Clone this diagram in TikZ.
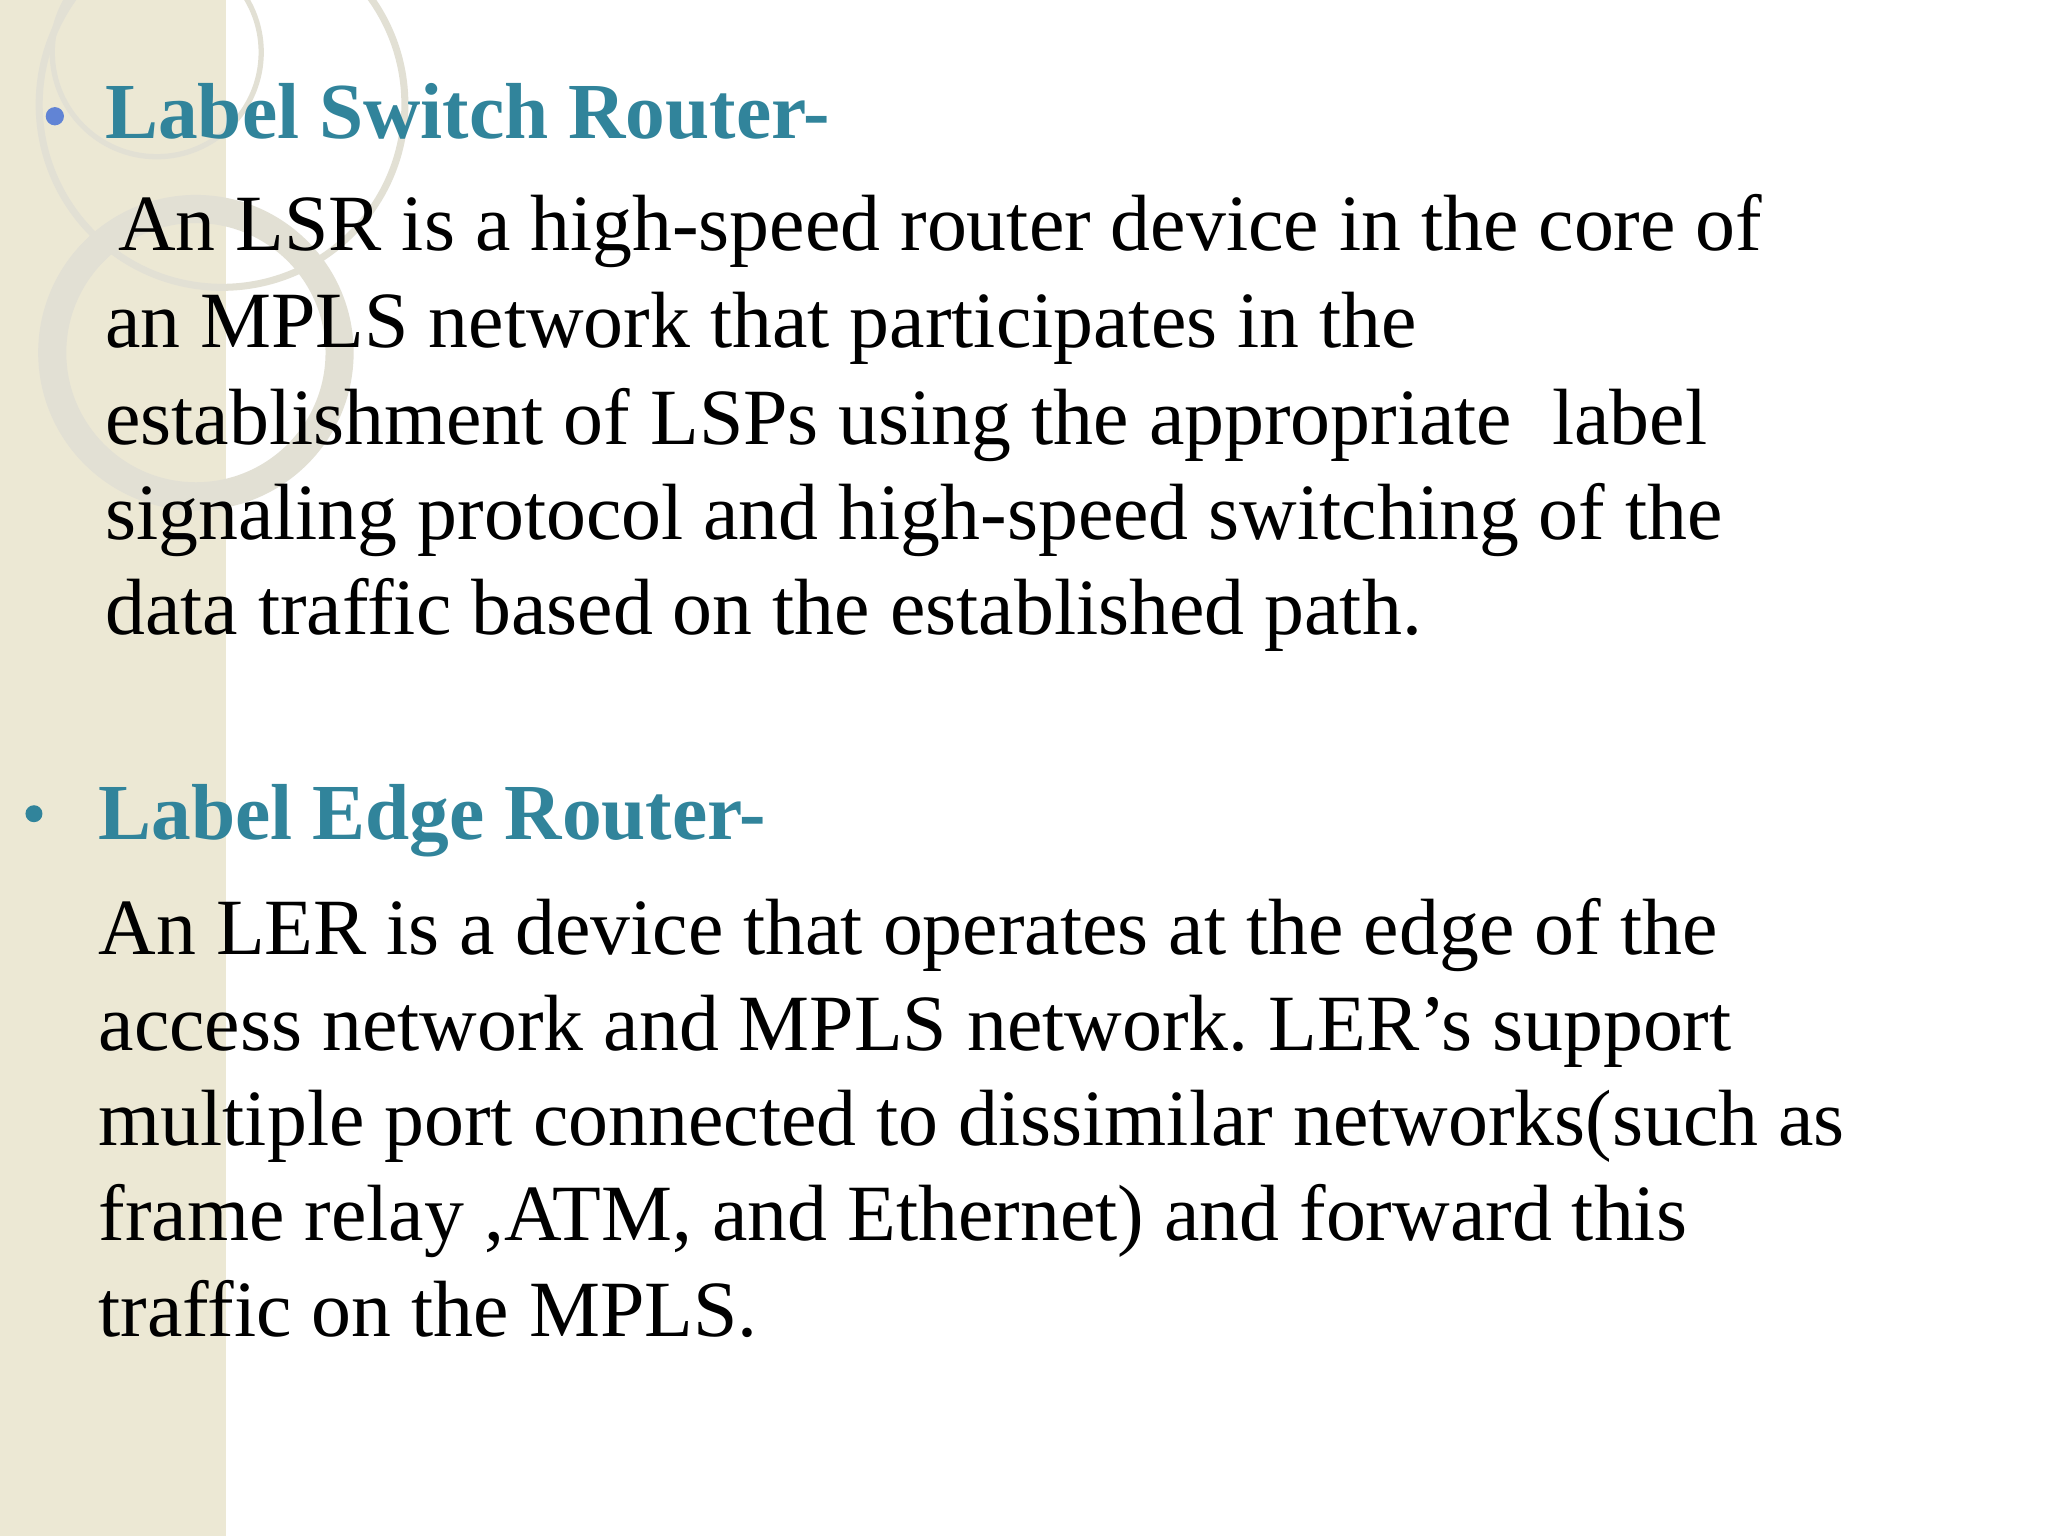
\documentclass[tikz,border=0pt]{standalone}
\usepackage{fontspec}
\setmainfont{Liberation Serif}
\frenchspacing
\definecolor{teal1}{RGB}{49,132,155}
\definecolor{strip}{RGB}{236,232,212}
\definecolor{ring}{RGB}{226,224,212}
\begin{document}
\begin{tikzpicture}[x=0.013061cm,y=-0.013061cm,
  body/.style={anchor=base west,inner sep=0pt,font=\fontsize{22.7}{27}\selectfont},
  head/.style={anchor=base west,inner sep=0pt,font=\fontsize{22.6}{27}\selectfont\bfseries,text=teal1}]
\useasboundingbox (0,0) rectangle (1568,1176);
\fill[white] (0,0) rectangle (1568,1176);
\fill[strip] (0,0) rectangle (173,1176);
\draw[ring,line width=2pt] (170,80) circle (140);
\draw[ring,line width=8pt] (150,270) circle (110);
\draw[ring,line width=1.5pt] (120,40) circle (80);
\fill[teal1!60!blue!70] (42,89) circle (7);
\node[head] (h1) at (80,106) {Label Switch Router-};
\node[body] (a1) at (90,192) {An LSR is a high-speed router device in the core of};
\node[body] (a2) at (80,266) {an MPLS network that participates in the};
\node[body] (a3) at (80,340) {establishment of LSPs using the appropriate\ \ label};
\node[body] (a4) at (80,413) {signaling protocol and high-speed switching of the};
\node[body] (a5) at (80,486) {data traffic based on the established path.};
\fill[teal1] (26,623) circle (6.5);
\node[head] (h2) at (75,643) {Label Edge Router-};
\node[body] (b1) at (75,731) {An LER is a device that operates at the edge of the};
\node[body] (b2) at (75,804) {access network and MPLS network. LER’s support};
\node[body] (b3) at (75,877) {multiple port connected to dissimilar networks(such as};
\node[body] (b4) at (75,950) {frame relay ,ATM, and Ethernet) and forward this};
\node[body] (b5) at (75,1023) {traffic on the MPLS.};
\end{tikzpicture}
\end{document}
